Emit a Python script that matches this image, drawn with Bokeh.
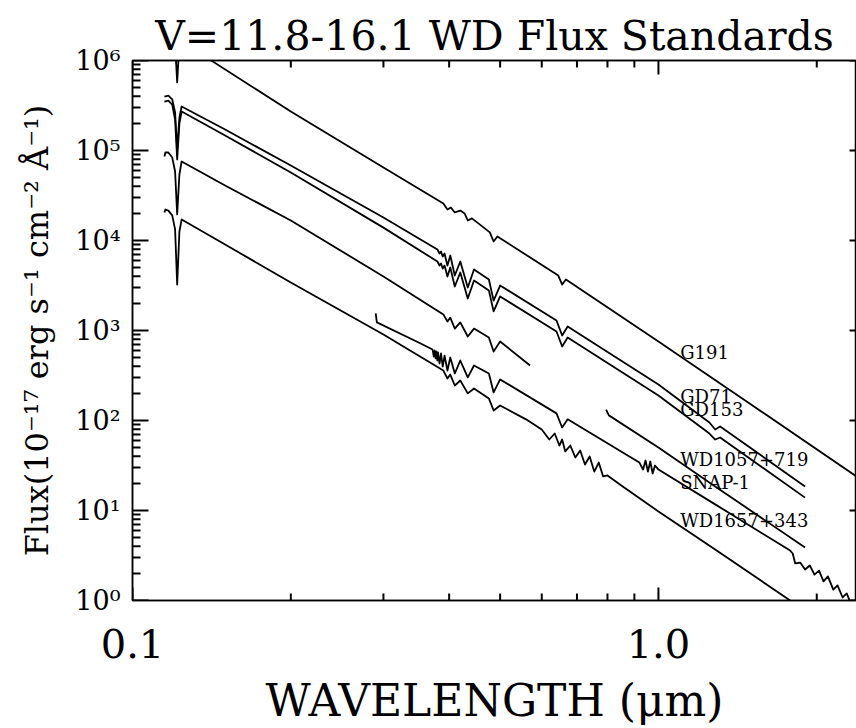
import math
from bokeh.plotting import figure
from bokeh.models import Range1d, LogAxis, FixedTicker, CustomJSTickFormatter, ColumnDataSource
from bokeh.embed import file_html
from bokeh.resources import INLINE
from bokeh.core.properties import value

FONT = "DejaVu Serif"

# ---------------- data (wavelength in micron, flux in 1e-17 erg/s/cm2/A) ----------------
g191_wl = [0.115, 0.119, 0.1205, 0.1216, 0.1228, 0.14, 0.2, 0.3, 0.39, 0.397, 0.403, 0.410,
           0.420, 0.428, 0.434, 0.442, 0.478, 0.486, 0.494, 0.645, 0.656, 0.667, 1.0, 1.5, 2.38]
g191_flux = [2.05e6, 1.85e6, 1.51e6, 5.70e5, 1.58e6, 1.03e6, 2.71e5, 6.47e4, 2.58e4, 2.21e4, 2.33e4, 2.05e4,
             2.15e4, 2.0e4, 1.67e4, 1.76e4, 1.23e4, 9.75e3, 1.11e4, 4.08e3, 3.24e3, 3.69e3, 755, 150.6, 23.9]

gd_wl = [0.115, 0.117, 0.119, 0.1205, 0.1216, 0.1228, 0.124, 0.15, 0.2, 0.3, 0.38, 0.3835, 0.386,
         0.3889, 0.392, 0.397, 0.402, 0.410, 0.420, 0.434, 0.446, 0.476, 0.486, 0.500, 0.640, 0.656,
         0.672, 1.0, 1.25, 1.282, 1.31, 1.9]
gd71_flux = [3.98e5, 4.08e5, 3.69e5, 2.64e5, 1.03e5, 2.33e5, 3.08e5, 1.71e5, 6.81e4, 1.80e4, 7.94e3, 7.17e3, 7.55e3,
             6.64e3, 7.17e3, 5.27e3, 6.81e3, 4.08e3, 5.84e3, 3.0e3, 4.76e3, 3.69e3, 2.15e3, 3.16e3, 1.29e3, 880,
             1.11e3, 251, 95, 79.4, 85.8, 18.5]
gd153_flux = [3.50e5, 3.59e5, 3.24e5, 2.21e5, 7.94e4, 2.0e5, 2.71e5, 1.47e5, 5.70e4, 1.39e4, 5.84e3, 5.27e3, 5.55e3,
              4.88e3, 5.27e3, 3.98e3, 5.01e3, 3.08e3, 4.41e3, 2.27e3, 3.59e3, 2.78e3, 1.63e3, 2.39e3, 975, 664,
              836, 190, 71.7, 61.5, 64.7, 13.9]

wd1057_opt_wl = [0.115, 0.1155, 0.117, 0.119, 0.1205, 0.1216, 0.1228, 0.124, 0.15, 0.2, 0.3, 0.39, 0.397,
                 0.402, 0.410, 0.420, 0.434, 0.446, 0.476, 0.486, 0.500, 0.570]
wd1057_opt_flux = [8.58e4, 9.50e4, 9.50e4, 8.36e4, 5.84e4, 1.95e4, 5.41e4, 7.55e4, 4.08e4, 1.67e4, 3.98e3, 1.51e3, 1.26e3,
                   1.39e3, 1.05e3, 1.23e3, 858, 1.05e3, 836, 584, 755, 408]
wd1057_ir_wl = [0.795, 0.805, 1.0, 1.282, 1.9]
wd1057_ir_flux = [132, 114, 50.1, 18.5, 3.88]

snap1_wl = [0.290, 0.2915, 0.35, 0.372, 0.374, 0.3755, 0.377, 0.3785, 0.3798, 0.381, 0.3835, 0.386, 0.3889,
            0.392, 0.397, 0.402, 0.410, 0.420, 0.434, 0.446, 0.476, 0.486, 0.500, 0.640, 0.656, 0.672, 0.90,
            0.92, 0.935, 0.945, 0.955, 0.965, 0.975, 0.985, 1.0, 1.282, 1.78, 1.80, 1.82, 1.86, 1.90, 1.94,
            1.98, 2.02, 2.06, 2.10, 2.15, 2.19, 2.24, 2.28, 2.33]
snap1_flux = [1.55e3, 1.23e3, 736, 615, 514, 599, 489, 584, 464, 570, 430, 555, 398,
              527, 359, 501, 333, 464, 301, 408, 333, 205, 286, 120, 83.6, 103, 36.9,
              34.1, 28.5, 35.9, 27.1, 35.0, 25.8, 31.6, 28.5, 11.7, 3.59, 3.33, 2.58, 2.64, 2.21, 2.45,
              1.94, 2.15, 1.63, 1.85, 1.32, 1.47, 1.08, 1.20, 0.88]

wd1657_wl = [0.115, 0.1155, 0.117, 0.119, 0.1205, 0.1216, 0.1228, 0.124, 0.15, 0.2, 0.3, 0.39, 0.397,
             0.402, 0.410, 0.420, 0.434, 0.446, 0.476, 0.486, 0.500, 0.560, 0.600, 0.620, 0.635, 0.648,
             0.656, 0.665, 0.680, 0.695, 0.710, 0.725, 0.740, 0.755, 0.770, 0.785, 0.800, 0.850, 1.0,
             1.282, 1.78, 1.84]
wd1657_flux = [2.05e4, 2.21e4, 2.15e4, 1.90e4, 1.33e4, 3.24e3, 1.26e4, 1.71e4, 9.03e3, 3.41e3, 903, 359, 293,
               324, 245, 278, 200, 227, 176, 129, 147, 103, 79.4, 61.5, 71.7, 52.7,
               61.5, 45.3, 52.7, 38.8, 46.4, 32.4, 39.8, 27.1, 34.1, 23.9, 24.5, 19.0, 9.75,
               3.69, 1.0, 0.88]

star_names = ["G191", "GD71", "GD153", "WD1057+719", "SNAP-1", "WD1657+343"]
label_wl = [1.10, 1.10, 1.10, 1.10, 1.10, 1.10]
label_flux = [570, 185, 132, 36.9, 20.5, 7.74]

x_lo, x_hi = 0.1, 2.38
y_lo, y_hi = 1.0, 1e6
x_major = [0.1, 1.0]
x_minor = [0.2, 0.3, 0.4, 0.5, 0.6, 0.7, 0.8, 0.9, 2.0]
y_major = [1.0, 10.0, 100.0, 1e3, 1e4, 1e5, 1e6]
y_minor = [float(k * 10 ** n) for n in range(0, 6) for k in range(2, 10)]

title_text = "V=11.8-16.1 WD Flux Standards"
x_label = "WAVELENGTH (\u03bcm)"
y_label = "Flux(10\u207b\u00b9\u2077 erg s\u207b\u00b9 cm\u207b\u00b2 \u00c5\u207b\u00b9)"

# ---------------- figure ----------------
W, H = 856, 728
BL, BR, BT, BB = 132, 0, 60, 128
p = figure(width=W, height=H, x_axis_type="log", y_axis_type="log",
           x_range=Range1d(x_lo, x_hi), y_range=Range1d(y_lo, y_hi),
           output_backend="svg", toolbar_location=None, title=title_text,
           min_border_left=BL, min_border_right=BR, min_border_top=BT, min_border_bottom=BB)
p.background_fill_color = "white"
p.border_fill_color = "white"
p.outline_line_color = "black"
p.outline_line_width = 1.5
p.xgrid.visible = False
p.ygrid.visible = False

p.title.text_font = FONT
p.title.text_font_size = "41px"
p.title.text_font_style = "normal"
p.title.align = "center"
p.title.standoff = 2
p.title.text_color = "black"

y_fmt = CustomJSTickFormatter(code="""
const sup = {"0":"\u2070","1":"\u00b9","2":"\u00b2","3":"\u00b3","4":"\u2074","5":"\u2075","6":"\u2076","7":"\u2077","8":"\u2078","9":"\u2079","-":"\u207b"};
const e = Math.round(Math.log10(tick));
return "10" + String(e).split("").map(c => sup[c]).join("");
""")
x_fmt = CustomJSTickFormatter(code="return tick.toFixed(1);")
blank_fmt = CustomJSTickFormatter(code="return '';")

def style_axis(ax):
    ax.axis_line_color = "black"
    ax.axis_line_width = 1.5
    ax.major_tick_line_color = None
    ax.minor_tick_line_color = None
    ax.major_tick_out = 0
    ax.minor_tick_out = 0
    ax.major_tick_in = 0
    ax.minor_tick_in = 0
    ax.major_label_text_font = FONT
    ax.major_label_text_color = "black"
    ax.axis_label_text_font = FONT
    ax.axis_label_text_font_style = "normal"
    ax.axis_label_text_color = "black"

xb = p.xaxis[0]
style_axis(xb)
xb.ticker = FixedTicker(ticks=x_major, minor_ticks=x_minor)
xb.formatter = x_fmt
xb.major_label_text_font_size = "40px"
xb.major_label_standoff = 28
xb.axis_label = x_label
xb.axis_label_text_font_size = "44px"
xb.axis_label_standoff = 14

yl = p.yaxis[0]
style_axis(yl)
yl.ticker = FixedTicker(ticks=y_major, minor_ticks=y_minor)
yl.formatter = y_fmt
yl.major_label_text_font_size = "27px"
yl.major_label_standoff = 12
yl.axis_label = y_label
yl.axis_label_text_font_size = "32px"
yl.axis_label_standoff = 16

xt = LogAxis(ticker=FixedTicker(ticks=x_major, minor_ticks=x_minor), formatter=blank_fmt)
style_axis(xt)
xt.major_label_standoff = 0
xt.major_label_text_font_size = "1px"
p.add_layout(xt, "above")

yr = LogAxis(ticker=FixedTicker(ticks=y_major, minor_ticks=y_minor), formatter=blank_fmt)
style_axis(yr)
yr.axis_line_color = None
yr.major_label_standoff = 0
yr.major_label_text_font_size = "1px"
p.add_layout(yr, "right")

# ---------------- inward tick marks (lengths in pixels converted to log-scale factors) ----------------
px_per_dec_x = (W - BL - BR) / math.log10(x_hi / x_lo)
px_per_dec_y = (H - BT - BB) / math.log10(y_hi / y_lo)

def fx(px):
    return 10 ** (px / px_per_dec_x)

def fy(px):
    return 10 ** (px / px_per_dec_y)

tick_xs, tick_ys = [], []
for ticks, L in ((x_major, 13), (x_minor, 7)):          # bottom
    for t in ticks:
        tick_xs.append([t, t]); tick_ys.append([y_lo * 0.999, y_lo * fy(L)])
for ticks, L in ((x_major, 14), (x_minor, 7)):          # top
    for t in ticks:
        tick_xs.append([t, t]); tick_ys.append([y_hi * 1.001, y_hi / fy(L)])
for ticks, L in ((y_major, 16), (y_minor, 8)):          # left
    for t in ticks:
        tick_xs.append([x_lo * 0.999, x_lo * fx(L)]); tick_ys.append([t, t])
for t in y_major:                                        # right, major only
    tick_xs.append([x_hi * 1.001, x_hi / fx(7)]); tick_ys.append([t, t])

p.multi_line(xs=tick_xs, ys=tick_ys, line_color="black", line_width=2)

# ---------------- spectra ----------------
spectra = [
    (g191_wl, g191_flux),
    (gd_wl, gd71_flux),
    (gd_wl, gd153_flux),
    (wd1057_opt_wl, wd1057_opt_flux),
    (wd1057_ir_wl, wd1057_ir_flux),
    (snap1_wl, snap1_flux),
    (wd1657_wl, wd1657_flux),
]
for wl, fl in spectra:
    p.line(wl, fl, line_color="black", line_width=1.8, line_join="round")

lab_src = ColumnDataSource(dict(x=label_wl, y=label_flux, t=star_names))
p.text(x="x", y="y", text="t", source=lab_src, text_font=value(FONT), text_font_size="18px",
       text_color="black", text_align="left", text_baseline="middle")

open("out.html", "w").write(file_html(p, INLINE))
